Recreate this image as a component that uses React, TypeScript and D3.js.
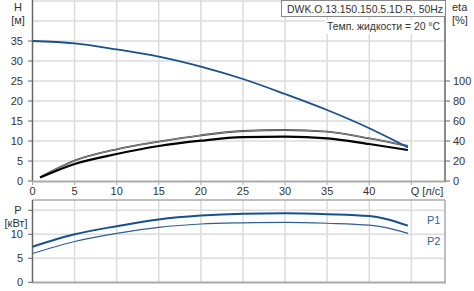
import React from "react";
import * as d3 from "d3";

const qTicks = [0, 5, 10, 15, 20, 25, 30, 35, 40];
const qGrid = [5, 10, 15, 20, 25, 30, 35, 40, 45];
const hTicks = [0, 5, 10, 15, 20, 25, 30, 35];
const hGrid = [5, 10, 15, 20, 25, 30, 35, 40, 45];
const etaTicks = [0, 20, 40, 60, 80, 100];
const pTicks = [0, 5, 10];
const pGrid = [5, 10, 15];

const qH = [0, 5, 10, 15, 20, 25, 30, 35, 40, 44.6];
const hVals = [35, 34.4, 32.9, 31.1, 28.6, 25.5, 21.75, 17.75, 13.2, 8.4];

const qEta = [0.9, 5, 10, 15, 20, 25, 30, 35, 40, 44.6];
const etaPump = [3.6, 20.3, 31.7, 39.3, 45.7, 50, 51, 49.3, 42.7, 35];
const etaTotal = [3.4, 17, 27, 35, 40.3, 43.8, 44.3, 42.7, 37, 31];

const qP = [0, 5, 10, 15, 20, 25, 30, 35, 40, 42, 44.6];
const p1Vals = [7.4, 10.0, 11.7, 13.1, 13.9, 14.3, 14.4, 14.2, 13.8, 13.2, 11.8];
const p2Vals = [6.0, 8.5, 10.2, 11.45, 12.15, 12.4, 12.5, 12.3, 11.9, 11.4, 10.2];

const FONT = "'Liberation Sans', Arial, sans-serif";

export default function App() {
  const x = d3.scaleLinear().domain([0, 49]).range([32.5, 445]);
  const yH = d3.scaleLinear().domain([0, 45]).range([181, 1]);
  const yEta = d3.scaleLinear().domain([0, 180]).range([181, 1]);
  const yP = d3.scaleLinear().domain([0, 17.15]).range([282.3, 200]);

  const mk = (qs: number[], vs: number[], y: d3.ScaleLinear<number, number>) =>
    d3
      .line<number>()
      .x((_, i) => x(qs[i]))
      .y((v) => y(v))
      .curve(d3.curveMonotoneX)(vs) || "";

  const hPath = mk(qH, hVals, yH);
  const e1Path = mk(qEta, etaPump, yEta);
  const e2Path = mk(qEta, etaTotal, yEta);
  const p1Path = mk(qP, p1Vals, yP);
  const p2Path = mk(qP, p2Vals, yP);

  const gridC = "#dcdcdc";
  const textC = "#333";
  const blue = "#17508f";

  return (
    <svg
      width={474}
      height={291}
      style={{ position: "absolute", left: 0, top: 0, background: "#fff" }}
      fontFamily={FONT}
      fontSize={11}
    >
      <rect x={0} y={0} width={474} height={291} fill="#fff" />
      {/* top grid */}
      {qGrid.map((q) => (
        <line key={"vg" + q} x1={x(q)} x2={x(q)} y1={0} y2={181} stroke={gridC} strokeWidth={1.5} />
      ))}
      {hGrid.map((h) => (
        <line key={"hg" + h} x1={32.5} x2={445} y1={yH(h)} y2={yH(h)} stroke={gridC} strokeWidth={1.5} />
      ))}
      {/* bottom grid */}
      {qGrid.map((q) => (
        <line key={"vgb" + q} x1={x(q)} x2={x(q)} y1={200} y2={282} stroke={gridC} strokeWidth={1.5} />
      ))}
      {pGrid.map((p) => (
        <line key={"pg" + p} x1={32.5} x2={445} y1={yP(p)} y2={yP(p)} stroke={gridC} strokeWidth={1.5} />
      ))}

      {/* top axes */}
      <line x1={32.5} x2={32.5} y1={0} y2={181} stroke="#666" strokeWidth={1.5} />
      <line x1={445} x2={445} y1={0} y2={181} stroke="#666" strokeWidth={1.5} />
      <line x1={32} x2={446} y1={181.5} y2={181.5} stroke="#aaa" strokeWidth={2} />
      {hTicks.map((h) => (
        <g key={"ht" + h}>
          <line x1={28} x2={32.5} y1={yH(h)} y2={yH(h)} stroke="#666" />
          <text x={23} y={yH(h) + 4} textAnchor="end" fill={textC}>
            {h}
          </text>
        </g>
      ))}
      {etaTicks.map((e) => (
        <g key={"et" + e}>
          <line x1={445} x2={450} y1={yEta(e)} y2={yEta(e)} stroke="#666" />
          <text x={453} y={yEta(e) + 4} fill={textC}>
            {e}
          </text>
        </g>
      ))}
      {qTicks.map((q) => (
        <g key={"qt" + q}>
          <line x1={x(q)} x2={x(q)} y1={181} y2={185} stroke="#aaa" />
          <text x={x(q)} y={195} textAnchor="middle" fill={textC}>
            {q}
          </text>
        </g>
      ))}
      <line x1={x(45)} x2={x(45)} y1={181} y2={185} stroke="#aaa" />
      <text x={427} y={195} textAnchor="middle" fill={textC}>
        Q [л/с]
      </text>
      <text x={18} y={11} textAnchor="middle" fill={textC}>H</text>
      <text x={18} y={24} textAnchor="middle" fill={textC}>[м]</text>
      <text x={452} y={11} fill={textC}>eta</text>
      <text x={452} y={24} fill={textC}>[%]</text>

      {/* bottom axes */}
      <line x1={32.5} x2={445} y1={200} y2={200} stroke="#aaa" strokeWidth={1.5} />
      <line x1={445} x2={445} y1={200} y2={282.5} stroke="#aaa" strokeWidth={1.5} />
      <line x1={32} x2={446} y1={282.5} y2={282.5} stroke="#aaa" strokeWidth={2} />
      <line x1={32.5} x2={32.5} y1={200} y2={282} stroke="#666" strokeWidth={1.5} />
      {[...pTicks, 15].map((p) => (
        <line key={"ptk" + p} x1={28} x2={32.5} y1={yP(p)} y2={yP(p)} stroke="#666" />
      ))}
      {pTicks.map((p) => (
        <text key={"pt" + p} x={23} y={yP(p) + 4} textAnchor="end" fill={textC}>
          {p}
        </text>
      ))}
      <text x={18} y={214} textAnchor="middle" fill={textC}>P</text>
      <text x={16} y={227} textAnchor="middle" fill={textC}>[кВт]</text>
      <text x={427} y={224} fill="#2a64a8">P1</text>
      <text x={427} y={245} fill="#2a64a8">P2</text>

      {/* curves */}
      <path d={e1Path} fill="none" stroke="#333" strokeWidth={1.8} />
      <path d={e1Path} fill="none" stroke="#c8c8c8" strokeWidth={0.6} />
      <path d={e2Path} fill="none" stroke="#000" strokeWidth={2.2} />
      <path d={hPath} fill="none" stroke={blue} strokeWidth={1.8} />
      <path d={p1Path} fill="none" stroke={blue} strokeWidth={2} />
      <path d={p2Path} fill="none" stroke="#2f5f96" strokeWidth={1.2} />

      {/* legend */}
      <rect x={281.5} y={0.5} width={164} height={16} fill="#fff" stroke="#888" />
      <text x={287} y={12.5} fill={textC} textLength={156} lengthAdjust="spacingAndGlyphs">
        DWK.O.13.150.150.5.1D.R, 50Hz
      </text>
      <rect x={325} y={20} width={118} height={14} fill="#fff" />
      <text x={327} y={30} fill={textC} textLength={113} lengthAdjust="spacingAndGlyphs">
        Темп. жидкости = 20 °C
      </text>
    </svg>
  );
}
